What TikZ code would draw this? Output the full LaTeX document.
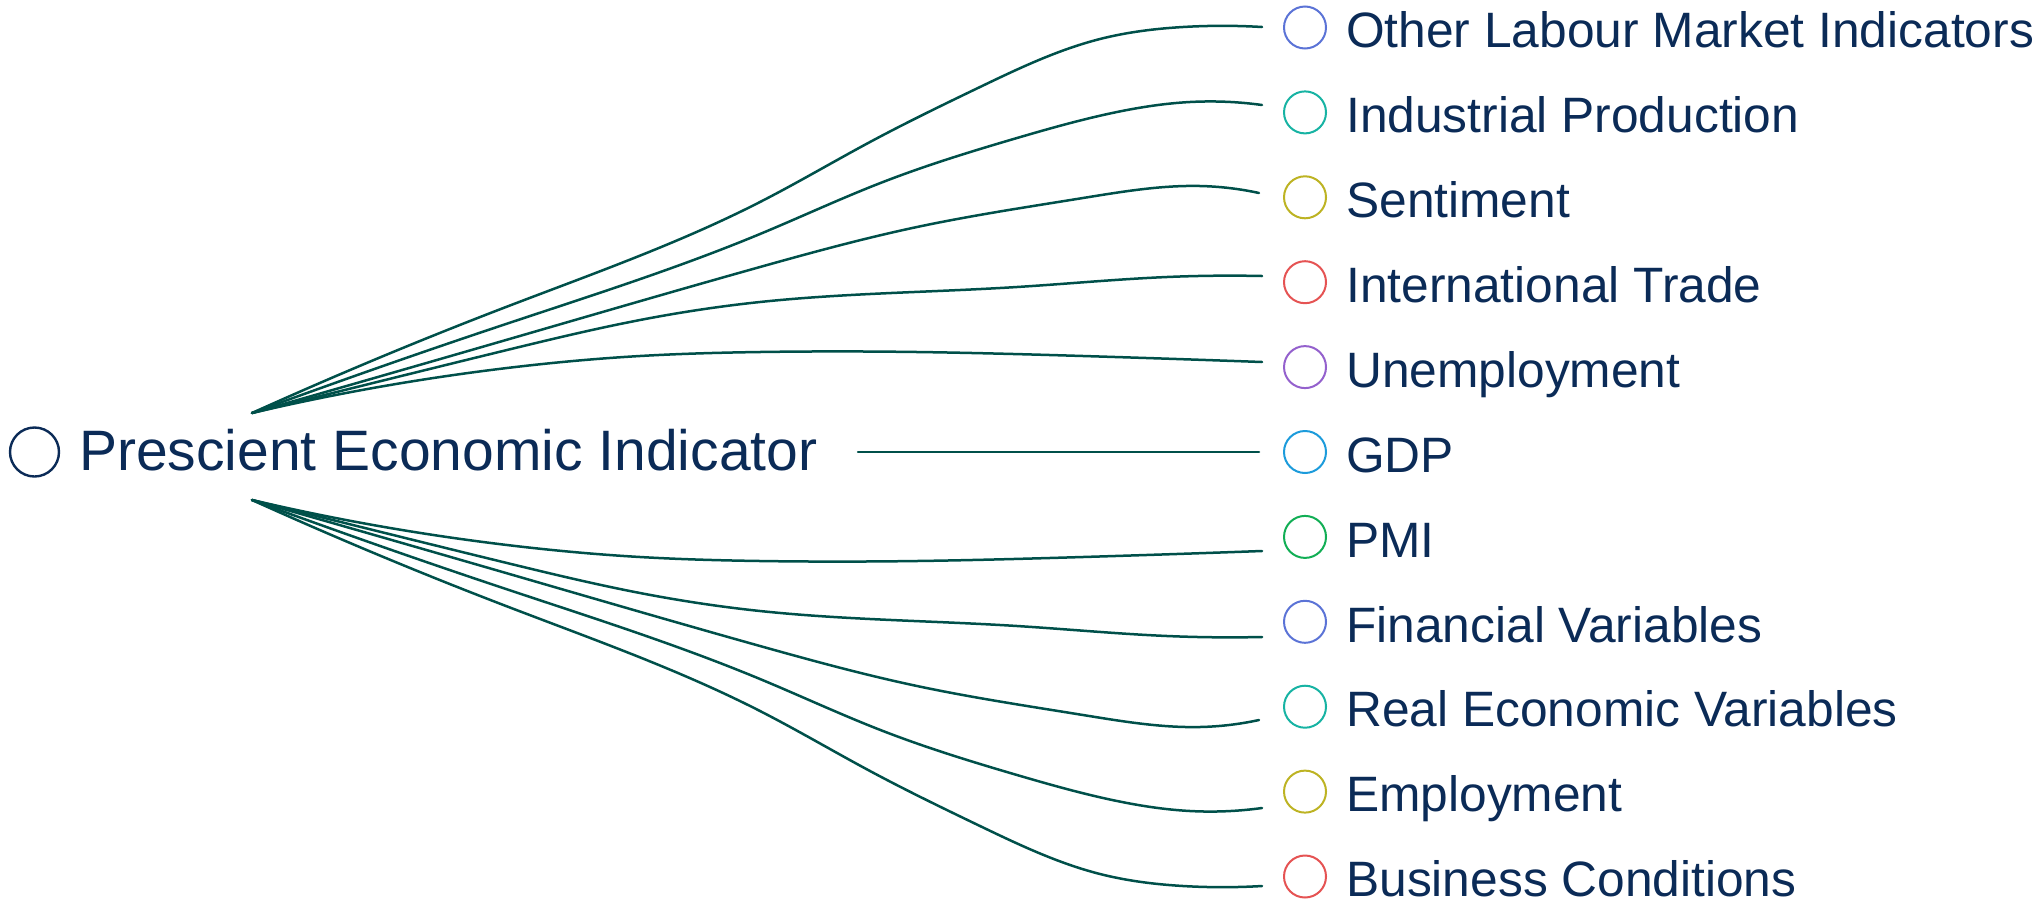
\documentclass[tikz,border=0pt]{standalone}
\usepackage{fontspec}
\setmainfont{Liberation Sans}
\usetikzlibrary{hobby}
\definecolor{ink}{HTML}{0B2B57}
\definecolor{linkc}{HTML}{00504A}
\definecolor{cA}{HTML}{5B73D6}
\definecolor{cB}{HTML}{17B3A3}
\definecolor{cC}{HTML}{BDB323}
\definecolor{cD}{HTML}{E55353}
\definecolor{cE}{HTML}{9461CD}
\definecolor{cF}{HTML}{1C9BDB}
\definecolor{cG}{HTML}{12AE55}
\begin{document}
\begin{tikzpicture}[x=1pt,y=-1pt,
  dot/.style={circle, draw, line width=2pt, minimum size=42pt, inner sep=0pt},
  rootdot/.style={circle, draw=ink, line width=2.4pt, minimum size=49pt, inner sep=0pt},
  lbl/.style={anchor=base west, inner sep=0pt, text=ink, font=\fontsize{49.7}{60}\selectfont},
  rootlbl/.style={anchor=base west, inner sep=0pt, text=ink, font=\fontsize{57}{68}\selectfont},
  linkline/.style={draw=linkc, line width=2.5pt, line cap=round, use Hobby shortcut}]
\useasboundingbox (0,0) rectangle (2036,908);

% central topic
\node[rootdot] (rootdot) at (34.5,452) {};
\node[rootlbl] (root) at (79,470) {Prescient Economic Indicator};

% branch topics
\foreach \i/\col/\txt in {
  0/cA/Other Labour Market Indicators,
  1/cB/Industrial Production,
  2/cC/Sentiment,
  3/cD/International Trade,
  4/cE/Unemployment,
  5/cF/GDP,
  6/cG/PMI,
  7/cA/Financial Variables,
  8/cB/Real Economic Variables,
  9/cC/Employment,
  10/cD/Business Conditions}{
  \node[dot, draw=\col] (d\i) at (1305,{27.5+84.9*\i}) {};
  \node[lbl] (c\i) at (1346,{47.7+84.9*\i}) {\txt};
}

% link anchors
\coordinate (su) at (252,413);
\coordinate (sl) at (252,500);
\coordinate (sm) at (858,452);
\coordinate (e0) at (1262,27);
\coordinate (e1) at (1262,105);
\coordinate (e2) at (1259,193);
\coordinate (e3) at (1262,276);
\coordinate (e4) at (1262,362);
\coordinate (e5) at (1259,452);
\coordinate (e6) at (1262,551);
\coordinate (e7) at (1262,637);
\coordinate (e8) at (1259,720);
\coordinate (e9) at (1262,808);
\coordinate (e10) at (1262,886);

% upper links
\draw[linkline] (su) .. (506,307) .. (760,202) .. (870,142) .. (980,87) .. (1100,39) .. (1183,27) .. (e0);
\draw[linkline] (su) .. (506,324) .. (760,234) .. (883,182) .. (1017,138) .. (1117,112) .. (1190,102) .. (e1);
\draw[linkline] (su) .. (506,340) .. (760,267) .. (917,227) .. (1083,198) .. (1200,186) .. (e2);
\draw[linkline] (su) .. (373,383) .. (507,350) .. (640,320) .. (760,302) .. (1017,287) .. (1167,277) .. (e3);
\draw[linkline] (su) .. (373,388) .. (507,368) .. (640,356) .. (760,352) .. (917,352) .. (1083,356) .. (e4);

% middle link
\draw[linkline] (sm) -- (e5);

% lower links
\draw[linkline] (sl) .. (373,525) .. (507,545) .. (640,557) .. (760,561) .. (917,561) .. (1083,557) .. (e6);
\draw[linkline] (sl) .. (373,530) .. (507,563) .. (640,593) .. (760,611) .. (1017,626) .. (1167,636) .. (e7);
\draw[linkline] (sl) .. (506,573) .. (760,646) .. (917,686) .. (1083,715) .. (1200,727) .. (e8);
\draw[linkline] (sl) .. (506,589) .. (760,679) .. (883,731) .. (1017,775) .. (1117,801) .. (1190,811) .. (e9);
\draw[linkline] (sl) .. (506,606) .. (760,711) .. (870,771) .. (980,826) .. (1100,874) .. (1183,886) .. (e10);
\end{tikzpicture}
\end{document}
